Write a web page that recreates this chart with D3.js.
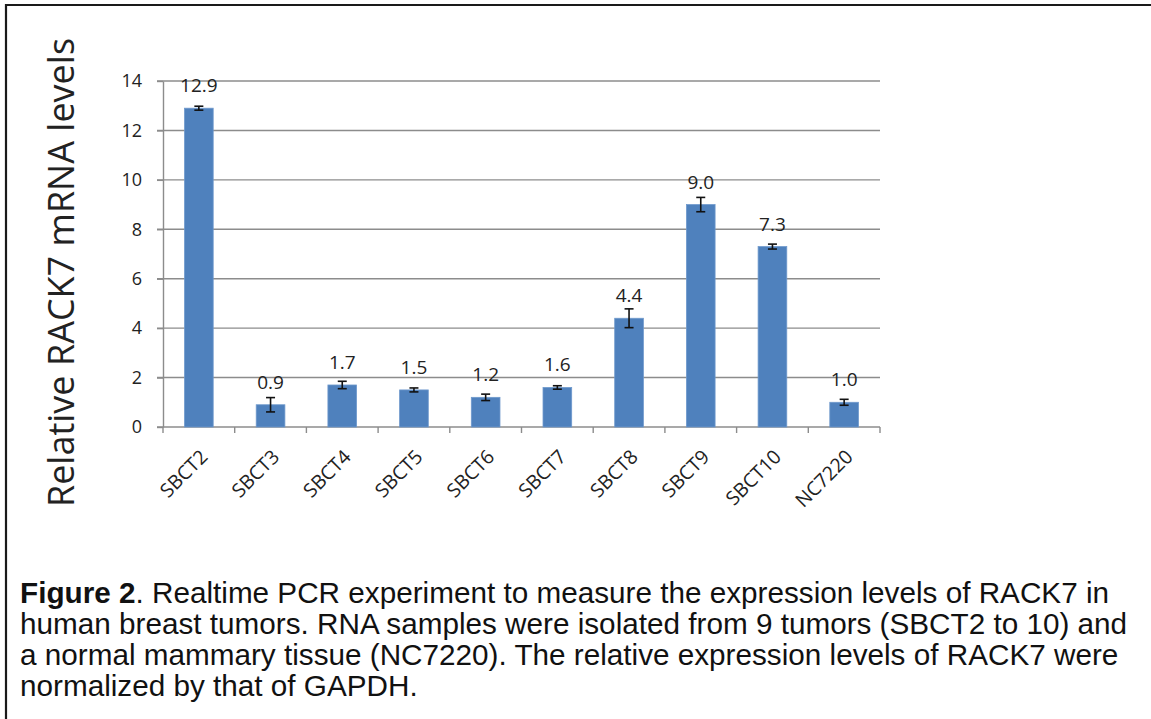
<!DOCTYPE html>
<html>
<head>
<meta charset="utf-8">
<script src="https://cdn.jsdelivr.net/npm/d3@7"></script>
<style>
  html, body { margin: 0; padding: 0; background: #fff; }
  svg { display: block; }
</style>
</head>
<body>
<svg id="chart" width="1151" height="719"></svg>
<script>
// Relative RACK7 mRNA levels per sample (normalized to GAPDH)
const samples = ["SBCT2", "SBCT3", "SBCT4", "SBCT5", "SBCT6", "SBCT7", "SBCT8", "SBCT9", "SBCT10", "NC7220"];
const levels  = [12.9, 0.9, 1.7, 1.5, 1.2, 1.6, 4.4, 9.0, 7.3, 1.0];
const errors  = [0.08, 0.29, 0.15, 0.08, 0.13, 0.07, 0.38, 0.29, 0.1, 0.12];
const yTicks  = [0, 2, 4, 6, 8, 10, 12, 14];
const yTitle  = "Relative RACK7 mRNA levels";
const captionBold = "Figure 2";
const captionLines = [
  ". Realtime PCR experiment to measure the expression levels of RACK7 in",
  "human breast tumors. RNA samples were isolated from 9 tumors (SBCT2 to 10) and",
  "a normal mammary tissue (NC7220). The relative expression levels of RACK7 were",
  "normalized by that of GAPDH."
];

const svg = d3.select("#chart");
const plot = { left: 163, right: 880, top: 81, bottom: 427 };

const x = d3.scaleBand()
  .domain(samples)
  .range([plot.left, plot.right])
  .paddingInner(0.6)
  .paddingOuter(0.3);

const y = d3.scaleLinear()
  .domain([0, 14])
  .range([plot.bottom, plot.top]);

const gridColor = "#8c8c8c";
const chartFont = "'Open Sans', sans-serif";

// frame around the figure
svg.append("path")
  .attr("d", "M6,719 L6,5 L1151,5")
  .attr("fill", "none")
  .attr("stroke", "#1a1a1a")
  .attr("stroke-width", 2.2);

// horizontal gridlines with left tick stubs
svg.append("g")
  .selectAll("line")
  .data(yTicks.filter(d => d > 0))
  .join("line")
  .attr("x1", plot.left - 6)
  .attr("x2", plot.right)
  .attr("y1", d => y(d))
  .attr("y2", d => y(d))
  .attr("stroke", gridColor)
  .attr("stroke-width", 1.4);

// y axis via d3.axisLeft, restyled
const yAxis = svg.append("g")
  .attr("transform", `translate(${plot.left},0)`)
  .call(d3.axisLeft(y).tickValues(yTicks).tickSize(6).tickPadding(15).tickSizeOuter(0));
yAxis.select(".domain").attr("stroke", gridColor).attr("stroke-width", 1.4);
yAxis.selectAll(".tick line").attr("stroke", gridColor).attr("stroke-width", 1.4);
yAxis.selectAll(".tick text")
  .attr("font-family", chartFont)
  .attr("font-size", 18)
  .attr("fill", "#222");

// x axis baseline and category boundary ticks
const step = x.step();
const boundaries = d3.range(samples.length + 1).map(i => plot.left + i * step);
svg.append("line")
  .attr("x1", plot.left - 6).attr("x2", plot.right)
  .attr("y1", y(0)).attr("y2", y(0))
  .attr("stroke", gridColor).attr("stroke-width", 1.4);
svg.append("g")
  .selectAll("line")
  .data(boundaries)
  .join("line")
  .attr("x1", d => d).attr("x2", d => d)
  .attr("y1", y(0)).attr("y2", y(0) + 6)
  .attr("stroke", gridColor).attr("stroke-width", 1.4);

// bars
svg.append("g")
  .selectAll("rect")
  .data(samples)
  .join("rect")
  .attr("x", d => x(d))
  .attr("width", x.bandwidth())
  .attr("y", (d, i) => y(levels[i]))
  .attr("height", (d, i) => y(0) - y(levels[i]))
  .attr("fill", "#4f81bd")
  .attr("stroke", "#6f99cc")
  .attr("stroke-width", 0.8);

// error bars
const capHalf = 4.5;
const eb = svg.append("g").attr("stroke", "#111").attr("stroke-width", 1.6);
samples.forEach((s, i) => {
  const cx = x(s) + x.bandwidth() / 2;
  const hi = y(levels[i] + errors[i]);
  const lo = y(levels[i] - errors[i]);
  eb.append("line").attr("x1", cx).attr("x2", cx).attr("y1", hi).attr("y2", lo);
  eb.append("line").attr("x1", cx - capHalf).attr("x2", cx + capHalf).attr("y1", hi).attr("y2", hi);
  eb.append("line").attr("x1", cx - capHalf).attr("x2", cx + capHalf).attr("y1", lo).attr("y2", lo);
});

// value labels above bars
svg.append("g")
  .selectAll("text")
  .data(samples)
  .join("text")
  .attr("x", d => x(d) + x.bandwidth() / 2)
  .attr("y", (d, i) => y(levels[i]) - 16)
  .attr("text-anchor", "middle")
  .attr("font-family", chartFont)
  .attr("font-size", 19)
  .attr("fill", "#222")
  .text((d, i) => levels[i].toFixed(1));

// rotated category labels
svg.append("g")
  .selectAll("text")
  .data(samples)
  .join("text")
  .attr("transform", d => `translate(${x(d) + x.bandwidth() / 2 + 10},${y(0) + 31}) rotate(-45)`)
  .attr("text-anchor", "end")
  .attr("font-family", chartFont)
  .attr("font-size", 19.5)
  .attr("fill", "#222")
  .text(d => d);

// y axis title
svg.append("text")
  .attr("transform", `translate(74,${(40 + 505) / 2}) rotate(-90)`)
  .attr("text-anchor", "middle")
  .attr("font-family", chartFont)
  .attr("font-size", 36)
  .attr("fill", "#222")
  .text(yTitle);

// caption
const capFont = "'Liberation Sans', Arial, sans-serif";
const cap = svg.append("g")
  .attr("font-family", capFont)
  .attr("font-size", 29.7)
  .attr("fill", "#111");
captionLines.forEach((line, i) => {
  const t = cap.append("text").attr("x", 20).attr("y", 603 + i * 31);
  if (i === 0) {
    t.append("tspan").attr("font-weight", "bold").text(captionBold);
  }
  t.append("tspan").text(line);
});
</script>
</body>
</html>
